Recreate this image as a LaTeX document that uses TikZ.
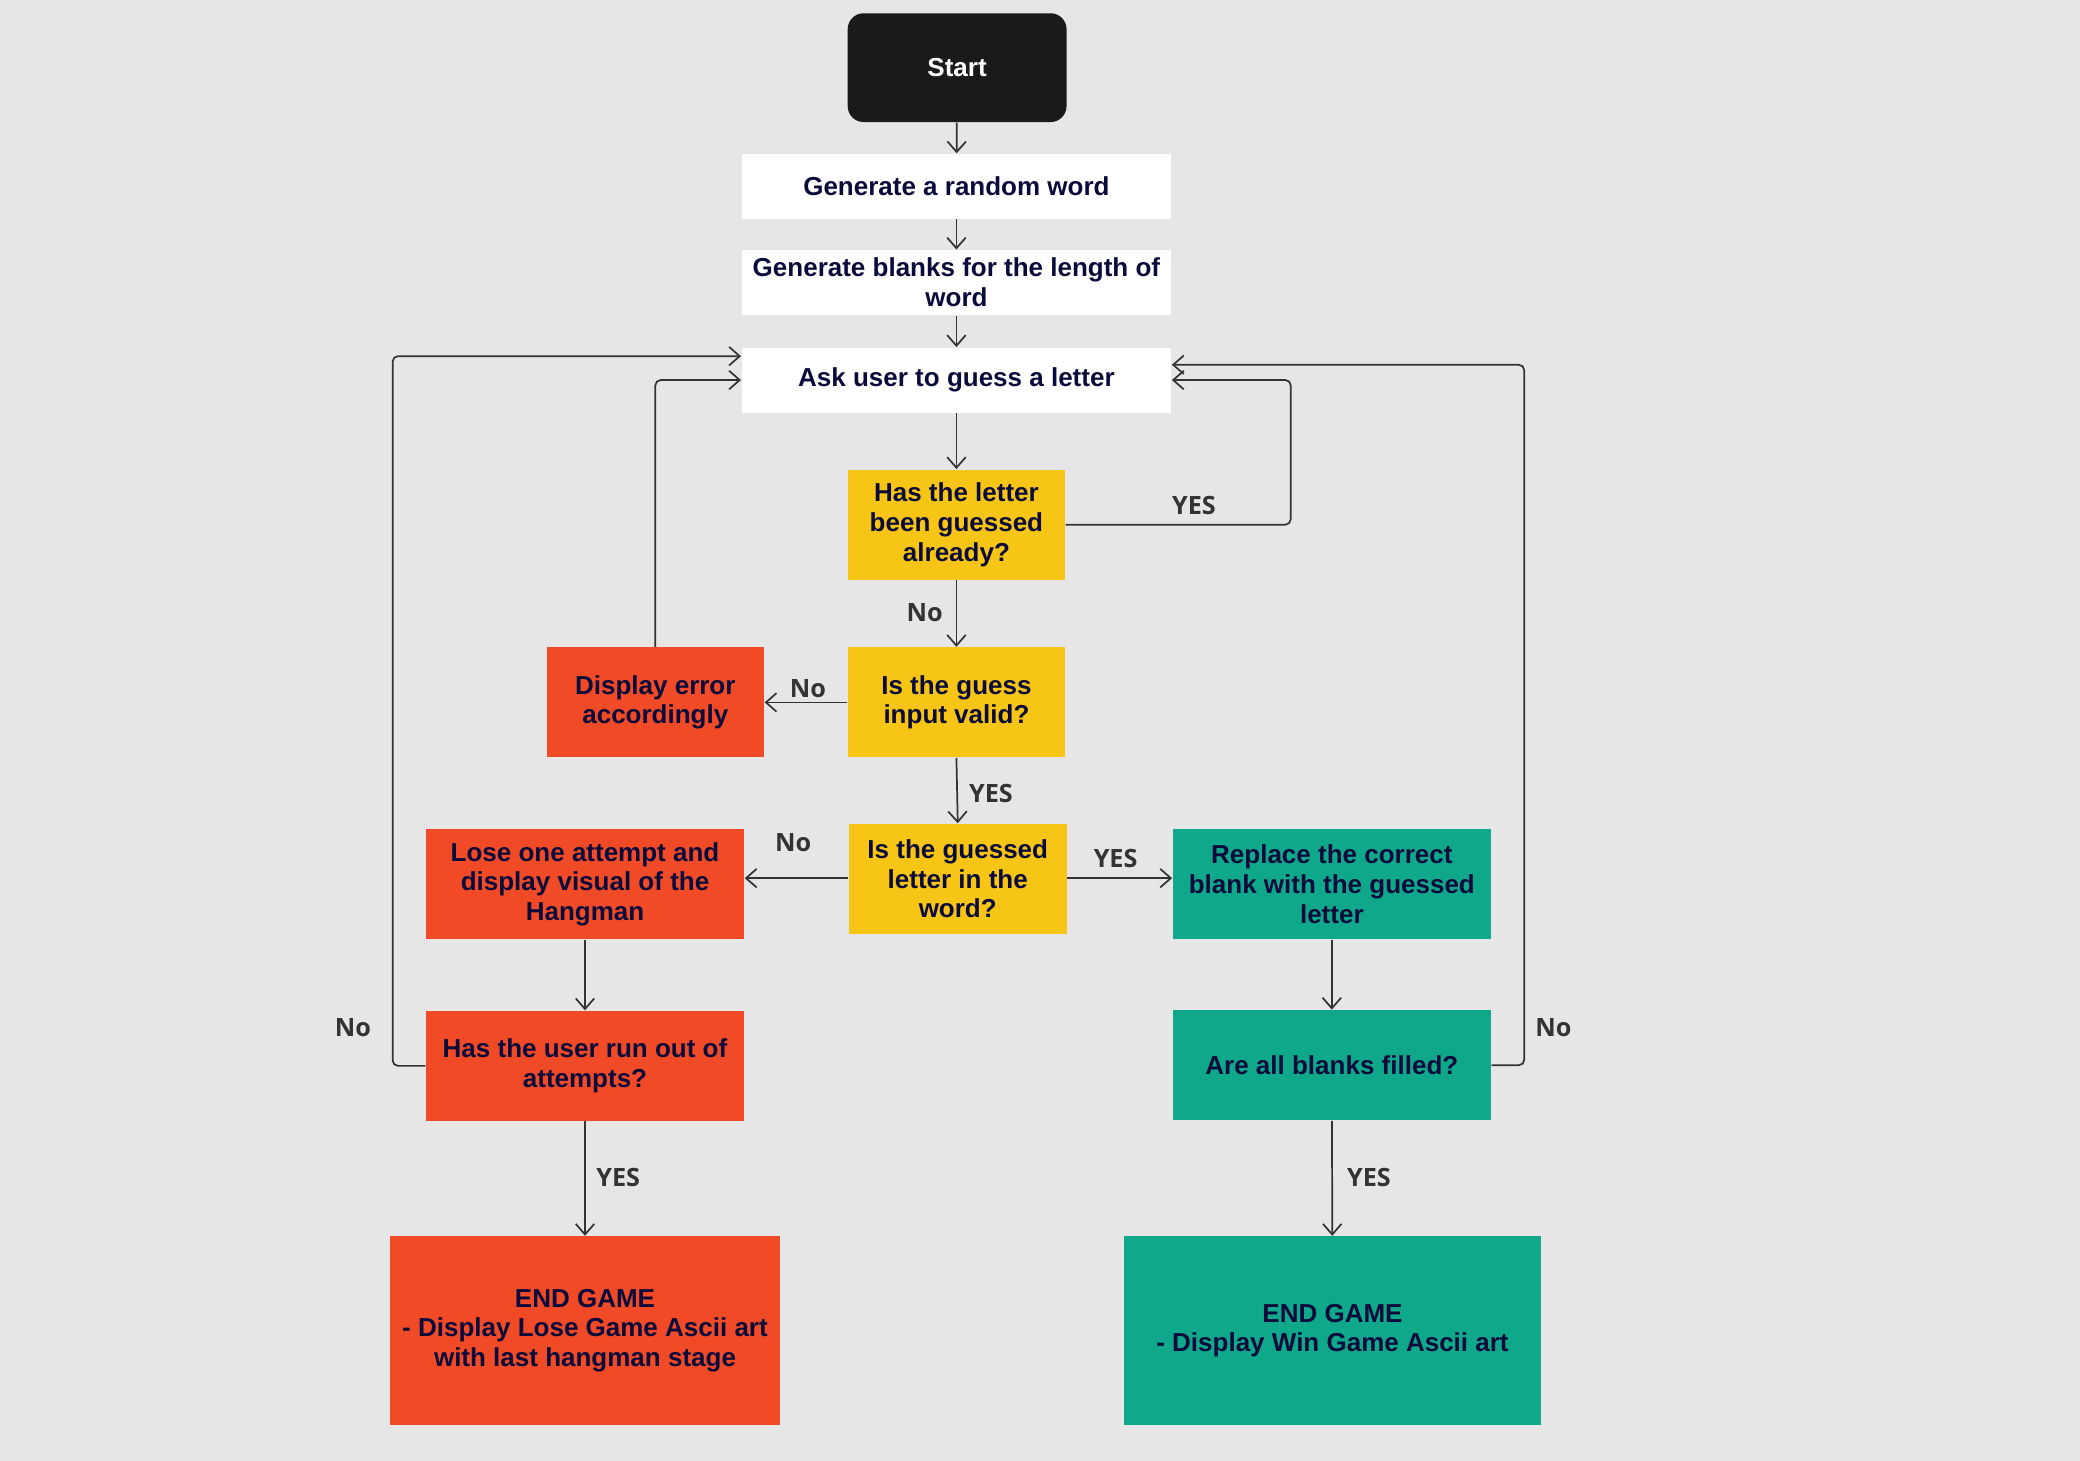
\documentclass[tikz,border=0pt]{standalone}
\usepackage{fontspec}
\setmainfont{Liberation Sans}
\newfontfamily\labelfont{Open Sans}
\usetikzlibrary{arrows.meta}
\definecolor{bg}{HTML}{E6E6E6}
\definecolor{ink}{HTML}{0B0B3B}
\definecolor{yel}{HTML}{F7C515}
\definecolor{redo}{HTML}{F04A27}
\definecolor{tealc}{HTML}{0FA88A}
\definecolor{linec}{HTML}{333333}
\definecolor{startc}{HTML}{1A1A1A}
\begin{document}
\begin{tikzpicture}[x=0.5pt,y=-0.5pt,
  box/.style={rectangle, inner sep=0pt, align=center, text=ink, font=\fontsize{9.8}{11.2}\selectfont\bfseries},
  wbox/.style={box, fill=white, minimum width=162pt, minimum height=24.5pt},
  ybox/.style={box, fill=yel, minimum width=82pt, minimum height=41.5pt},
  rbox/.style={box, fill=redo},
  gbox/.style={box, fill=tealc},
  wide/.style={minimum width=120pt, minimum height=41.5pt},
  conn/.style={draw=linec, line width=0.65pt, -{Straight Barb[length=4pt,width=7pt]}},
  lbl/.style={text=linec, font=\labelfont\fontsize{9.5}{11}\selectfont\bfseries, inner sep=0pt}]
\fill[bg] (0,0) rectangle (1568,1101);
\useasboundingbox (0,0) rectangle (1568,1101);

\node[box, fill=startc, text=white, rounded corners=6pt, minimum width=82.5pt, minimum height=41pt] (start) at (721.5,51) {Start};
\node[wbox] (gen) at (721,140.5) {Generate a random word};
\node[wbox] (blanks) at (721,213) {Generate blanks for the length of\\word};
\node[wbox] (ask) at (721,286.5) {Ask user to guess a letter};
\node[ybox] (hasl) at (721,395.5) {Has the letter\\been guessed\\already?};
\node[ybox] (valid) at (721,529.5) {Is the guess\\input valid?};
\node[rbox, minimum width=82pt, minimum height=41.5pt] (err) at (494,529.5) {Display error\\accordingly};
\node[ybox] (inword) at (722,662.5) {Is the guessed\\letter in the\\word?};
\node[rbox, wide] (lose) at (441,666.5) {Lose one attempt and\\display visual of the\\Hangman};
\node[gbox, wide] (repl) at (1004,666.5) {Replace the correct\\blank with the guessed\\letter};
\node[rbox, wide] (out) at (441,803.5) {Has the user run out of\\attempts?};
\node[gbox, wide] (filled) at (1004,803) {Are all blanks filled?};
\node[rbox, minimum width=147pt, minimum height=71pt] (endl) at (441,1003) {END GAME\\- Display Lose Game Ascii art\\with last hangman stage};
\node[gbox, minimum width=157.5pt, minimum height=71pt] (endw) at (1004.5,1003) {END GAME\\- Display Win Game Ascii art};

\coordinate (askL) at ([yshift=9pt]ask.west);
\coordinate (askR) at ([yshift=5.75pt]ask.east);
\coordinate (loseE) at ([yshift=2.25pt]lose.east);
\coordinate (replW) at ([yshift=2.25pt]repl.west);
\coordinate (rA) at (973,0);
\coordinate (rB) at (1149,0);
\coordinate (lB) at (296,0);

\draw[conn] (start) -- (gen);
\draw[conn] (gen) -- (blanks);
\draw[conn] (blanks) -- (ask);
\draw[conn] (ask) -- (hasl);
\draw[conn, rounded corners=2pt] (hasl.east) -- (hasl.east -| rA) -- (ask.east -| rA) -- (ask.east);
\draw[conn] (hasl) -- (valid);
\draw[conn] (valid) -- (err);
\draw[conn, rounded corners=2pt] (err.north) |- (ask.west);
\draw[conn] (valid.south) -- (inword.north);
\draw[conn] (inword.west |- loseE) -- (loseE);
\draw[conn] (inword.east |- replW) -- (replW);
\draw[conn] (lose) -- (out);
\draw[conn] (repl) -- (filled);
\draw[conn, rounded corners=2pt] (out.west) -- (out.west -| lB) -- (askL -| lB) -- (askL);
\draw[conn, rounded corners=2pt] (filled.east) -- (filled.east -| rB) -- (askR -| rB) -- (askR);
\draw[conn] (out) -- (endl);
\draw[conn] (filled) -- (endw);

\node[lbl] (l1) at (900,381) {YES};
\node[lbl] (l2) at (697,462) {No};
\node[lbl] (l3) at (609,519) {No};
\node[lbl] (l4) at (747,598) {YES};
\node[lbl] (l5) at (598,635) {No};
\node[lbl] (l6) at (841,647) {YES};
\node[lbl] (l7) at (266,775) {No};
\node[lbl] (l8) at (1171,775) {No};
\node[lbl] (l9) at (466,888) {YES};
\node[lbl] (l10) at (1032,888) {YES};
\end{tikzpicture}
\end{document}
